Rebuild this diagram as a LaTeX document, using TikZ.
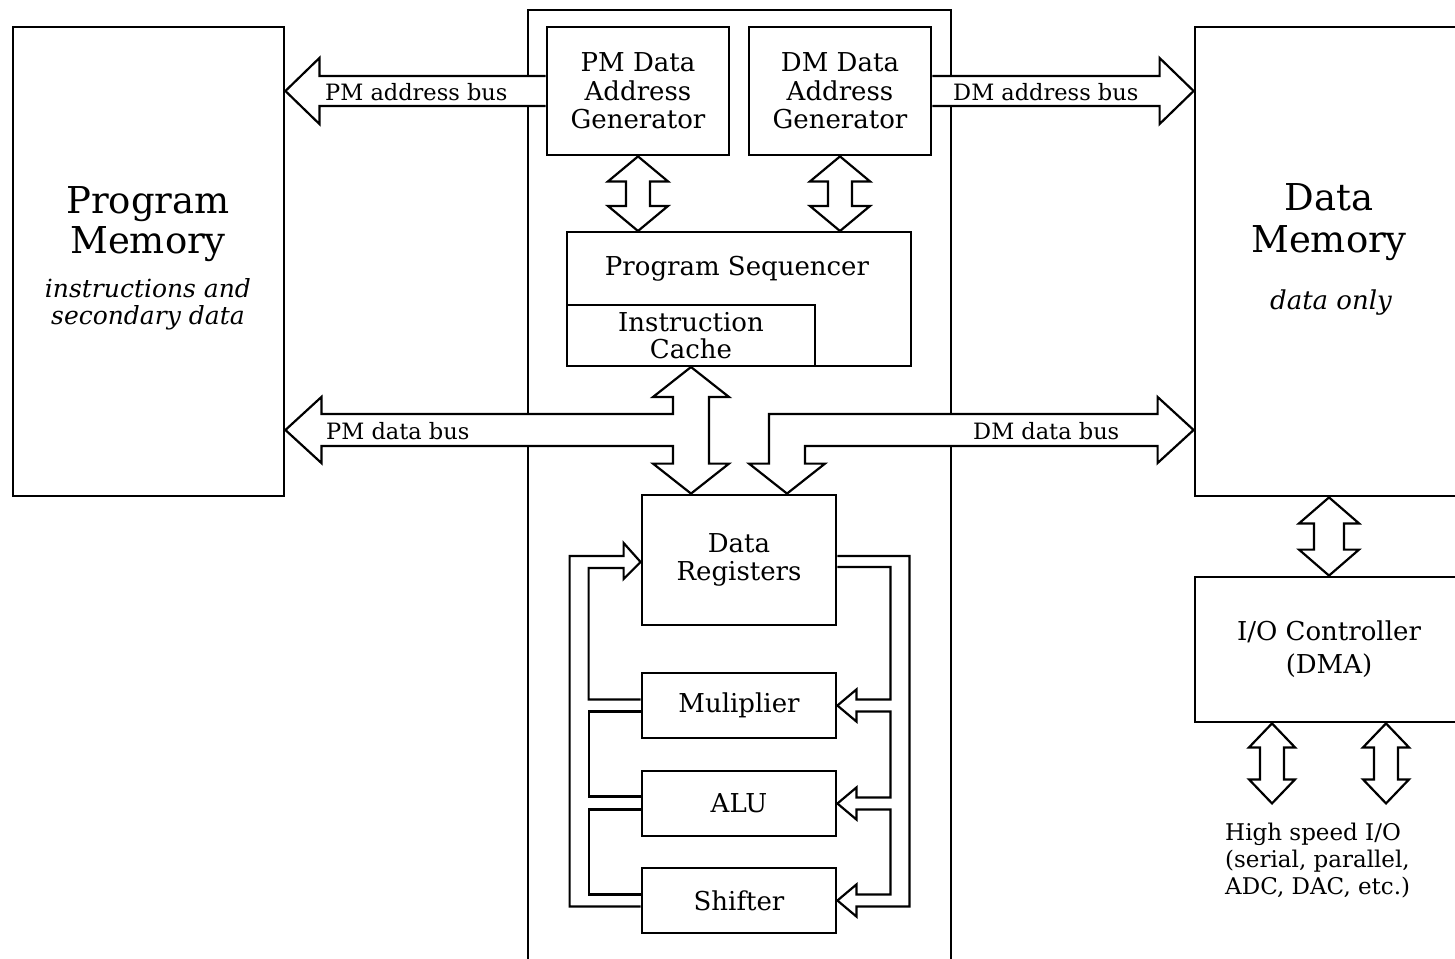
\documentclass[tikz,border=0pt]{standalone}
\usepackage{fontspec}
\setmainfont{DejaVu Serif}
\usetikzlibrary{calc}
\tikzset{
 box/.style={draw, line width=2.8pt, inner sep=0pt, align=center, font=\fontsize{26}{28.5}\selectfont},
 thinbox/.style={draw, line width=2pt, inner sep=0pt, align=center, font=\fontsize{26}{27}\selectfont},
 bus/.style={draw, fill=white, line width=2.2pt, line join=miter},
 loopline/.style={draw, line width=2.2pt, line join=miter},
 lbl/.style={inner sep=0pt, align=center},
 buslbl/.style={inner sep=0pt, font=\fontsize{22.5}{24}\selectfont},
}
\newcommand{\vdarrow}[5]{\draw[bus] let \p1=#1, \p2=#2 in (\x1,\y1) -- (\x1+#3,\y1-#5) -- (\x1+#4,\y1-#5) -- (\x1+#4,\y2+#5) -- (\x1+#3,\y2+#5) -- (\x1,\y2) -- (\x1-#3,\y2+#5) -- (\x1-#4,\y2+#5) -- (\x1-#4,\y1-#5) -- (\x1-#3,\y1-#5) -- cycle;}
\begin{document}
\begin{tikzpicture}[x=1pt,y=-1pt]
\useasboundingbox (0,0) rectangle (1455,958);
\clip (0,0) rectangle (1455,958);
\fill[white] (0,0) rectangle (1455,958);

% containers and boxes
\node[box, minimum width=423, minimum height=1000] (core) at (739.5,510) {};
\node[box, minimum width=271, minimum height=469] (pm) at (148.5,261.5) {};
\node[box, minimum width=268, minimum height=469] (dm) at (1329,261.5) {};
\node[box, minimum width=268, minimum height=145, font=\fontsize{26}{33}\selectfont] (io) at (1329,649.5) {I/O Controller\\(DMA)};
\node[box, minimum width=182, minimum height=128] (pmdag) at (638,91) {PM Data\\Address\\Generator};
\node[box, minimum width=182, minimum height=128] (dmdag) at (840,91) {DM Data\\Address\\Generator};
\node[thinbox, minimum width=344, minimum height=134] (seq) at (739,299) {};
\node[thinbox, minimum width=248, minimum height=61] (cache) at (691,335.5) {Instruction\\Cache};
\node[lbl, font=\fontsize{26}{28}\selectfont] (seqt) at (737,269) {Program Sequencer};
\node[box, minimum width=194, minimum height=130] (dr) at (739,560) {Data\\Registers};
\node[box, minimum width=194, minimum height=65] (mul) at (739,705.5) {Muliplier};
\node[box, minimum width=194, minimum height=65] (alu) at (739,803.5) {ALU};
\node[box, minimum width=194, minimum height=65] (sh) at (739,900.5) {Shifter};

% texts in memories
\node[lbl, font=\fontsize{37}{40}\selectfont] (pmt) at (148,224) {Program\\Memory};
\node[lbl, font=\fontsize{25}{27}\selectfont\itshape] (pmi) at (148,304) {instructions and\\secondary data};
\node[lbl, font=\fontsize{37}{42}\selectfont] (dmt) at (1329,222) {Data\\Memory};
\node[lbl, font=\fontsize{26}{28}\selectfont\itshape] (dmi) at (1331,303) {data only};
\node[lbl, font=\fontsize{23}{27}\selectfont, align=left, anchor=north west] (hsio) at (1225,823) {High speed I/O\\(serial, parallel,\\ADC, DAC, etc.)};

% address buses
\draw[bus] let \p1=(pmdag.west), \p2=(pm.east) in (\x1,\y1+15) -- (\x2+34,\y1+15) -- (\x2+34,\y1+33) -- (\x2,\y1) -- (\x2+34,\y1-33) -- (\x2+34,\y1-15) -- (\x1,\y1-15);
\draw[bus] let \p1=(dmdag.east), \p2=(dm.west) in (\x1,\y1+15) -- (\x2-34,\y1+15) -- (\x2-34,\y1+33) -- (\x2,\y1) -- (\x2-34,\y1-33) -- (\x2-34,\y1-15) -- (\x1,\y1-15);

% data buses
\coordinate (pmdb) at ($(pm.east)+(0,168.5)$);
\coordinate (dmdb) at ($(dm.west)+(0,168.5)$);
\draw[bus] let \p1=(cache.south), \p2=(dr.north -| cache.south), \p3=(pmdb) in
 (\x3,\y3) -- (\x3+36,\y3+33) -- (\x3+36,\y3+16) -- (\x1-18,\y3+16) -- (\x1-18,\y1-30) -- (\x1-38,\y1-30) -- (\x1,\y1) -- (\x1+38,\y1-30) -- (\x1+18,\y1-30) -- (\x1+18,\y2+30) -- (\x1+38,\y2+30) -- (\x1,\y2) -- (\x1-38,\y2+30) -- (\x1-18,\y2+30) -- (\x1-18,\y3-16) -- (\x3+36,\y3-16) -- (\x3+36,\y3-33) -- cycle;
\draw[bus] let \p1=($(dr.north)+(48,0)$), \p3=(dmdb) in
 (\x3,\y3) -- (\x3-36,\y3+33) -- (\x3-36,\y3+16) -- (\x1-18,\y3+16) -- (\x1-18,\y1+30) -- (\x1-38,\y1+30) -- (\x1,\y1) -- (\x1+38,\y1+30) -- (\x1+18,\y1+30) -- (\x1+18,\y3-16) -- (\x3-36,\y3-16) -- (\x3-36,\y3-33) -- cycle;

% vertical double arrows
\vdarrow{(pmdag.south)}{(seq.north -| pmdag.south)}{30}{12}{25}
\vdarrow{(dmdag.south)}{(seq.north -| dmdag.south)}{30}{12}{25}
\vdarrow{(dm.south)}{(io.north)}{30}{15}{26}
\coordinate (ioa) at ($(io.south)+(-57,0)$);
\coordinate (ioab) at ($(io.south)+(-57,80)$);
\coordinate (iob) at ($(io.south)+(57,0)$);
\coordinate (iobb) at ($(io.south)+(57,80)$);
\vdarrow{(ioa)}{(ioab)}{23}{12}{24}
\vdarrow{(iob)}{(iobb)}{23}{12}{24}

% loops left
\draw[loopline] let \p1=(dr.west), \p2=(sh.west), \p3=(mul.west) in
 (\x2,\y2-6) -- (\x1-71,\y2-6) -- (\x1-71,\y1+4) -- (\x1-17,\y1+4) -- (\x1-17,\y1+17) -- (\x1,\y1-2) -- (\x1-17,\y1-19) -- (\x1-17,\y1-8) -- (\x1-52,\y1-8) -- (\x1-52,\y3+6) -- (\x3,\y3+6);
\draw[loopline] let \p1=(dr.west), \p3=(mul.west), \p4=(alu.west) in
 (\x3,\y3-6) -- (\x1-52,\y3-6) -- (\x1-52,\y4+7) -- (\x4,\y4+7);
\draw[loopline] let \p1=(dr.west), \p4=(alu.west), \p2=(sh.west) in
 (\x4,\y4-6) -- (\x1-52,\y4-6) -- (\x1-52,\y2+6) -- (\x2,\y2+6);
% loops right
\draw[loopline] let \p1=(dr.east), \p2=(sh.east), \p3=(mul.east), \p4=(alu.east) in
 (\x1,\y1+4) -- (\x1+72,\y1+4) -- (\x1+72,\y2-6) -- (\x2+19,\y2-6) -- (\x2+19,\y2-16) -- (\x2,\y2) -- (\x2+19,\y2+16) -- (\x2+19,\y2+6) -- (\x1+53,\y2+6) -- (\x1+53,\y4-6) -- (\x4+19,\y4-6) -- (\x4+19,\y4-16) -- (\x4,\y4) -- (\x4+19,\y4+16) -- (\x4+19,\y4+6) -- (\x1+53,\y4+6) -- (\x1+53,\y3-6) -- (\x3+19,\y3-6) -- (\x3+19,\y3-16) -- (\x3,\y3) -- (\x3+19,\y3+16) -- (\x3+19,\y3+6) -- (\x1+53,\y3+6) -- (\x1+53,\y1-7) -- (\x1,\y1-7);

% bus labels
\node[buslbl, anchor=west] (pmab) at (325,92) {PM address bus};
\node[buslbl, anchor=west] (dmab) at (953,92) {DM address bus};
\node[buslbl, anchor=west] (pmdbl) at (326,431) {PM data bus};
\node[buslbl, anchor=west] (dmdbl) at (973,431) {DM data bus};
\end{tikzpicture}
\end{document}
